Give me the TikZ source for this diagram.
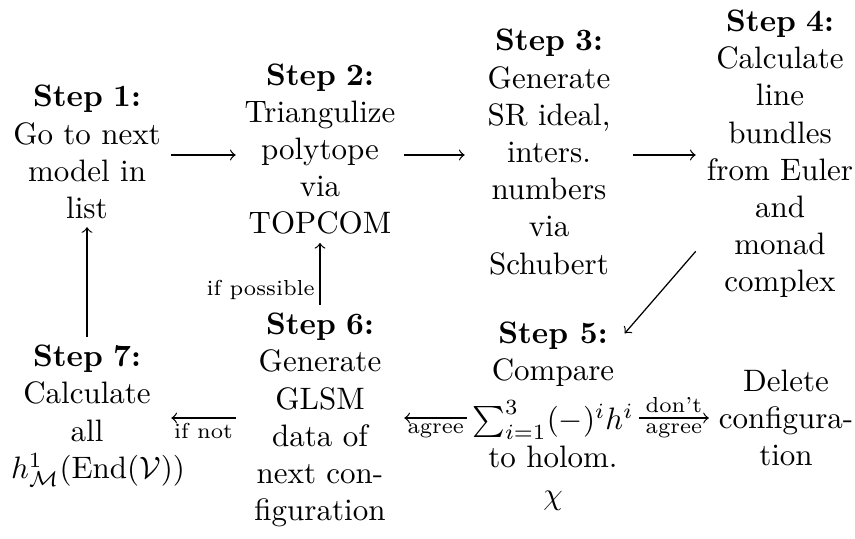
\documentclass[tikz,border=0pt]{standalone}
\usepackage{amsmath}
\begin{document}
\begin{tikzpicture}[x=0.3226pt,y=-0.3226pt]
\tikzset{
  stepbox/.style={text width=49pt, align=center, inner sep=2.5pt},
  freebox/.style={align=center, inner ysep=2.5pt, inner xsep=1.5pt},
  lab/.style={font=\scriptsize, inner sep=1.5pt},
  arr/.style={->}
}
\useasboundingbox (0,0) rectangle (855,539);
\coordinate (row1) at (0,155);
\coordinate (row2) at (0,418);
\node[stepbox] (s1) at (87,152) {\textbf{Step 1:}\\ Go to next\\ model in\\ list};
\node[stepbox] (s2) at (320,149) {\textbf{Step 2:}\\ Triangulize\\ polytope\\ via\\ TOPCOM};
\node[stepbox] (s3) at (549,152) {\textbf{Step 3:}\\ Generate\\ SR ideal,\\ inters.\\ numbers\\ via\\ Schubert};
\node[stepbox] (s4) at (780,154) {\textbf{Step 4:}\\ Calculate\\ line\\ bundles\\ from Euler\\ and\\ monad\\ complex};
\node[stepbox] (s7) at (87,416) {\textbf{Step 7:}\\ Calculate\\ all\\ $h^1_{\mathcal{M}}(\mathrm{End}(\mathcal{V}))$};
\node[stepbox] (s6) at (320,420) {\textbf{Step 6:}\\ Generate\\ GLSM\\ data of\\ next con-\\ figuration};
\node[freebox] (s5) at (553,416) {\textbf{Step 5:}\\ Compare\\[4pt] $\sum_{i=1}^{3}(-)^ih^i$\\ to holom.\\ $\chi$};
\node[freebox, inner xsep=3pt] (del) at (786,418) {Delete\\ configura-\\ tion};
\draw[arr] (s1.east |- row1) -- (s2.west |- row1);
\draw[arr] (s2.east |- row1) -- (s3.west |- row1);
\draw[arr] (s3.east |- row1) -- (s4.west |- row1);
\draw[arr, shorten >=-7pt] (s4) -- (s5);
\draw[arr] (s5.west |- row2) -- node[lab, below] {agree} (s6.east |- row2);
\draw[arr] (s5.east |- row2) -- node[lab, above] {don't} node[lab, below] {agree} (del.west |- row2);
\draw[arr] (s6.west |- row2) -- node[lab, below] {if not} (s7.east |- row2);
\draw[arr] (s6) -- node[lab, pos=0, anchor=south east] {if possible} (s2);
\draw[arr] (s7) -- (s1);
\end{tikzpicture}
\end{document}
